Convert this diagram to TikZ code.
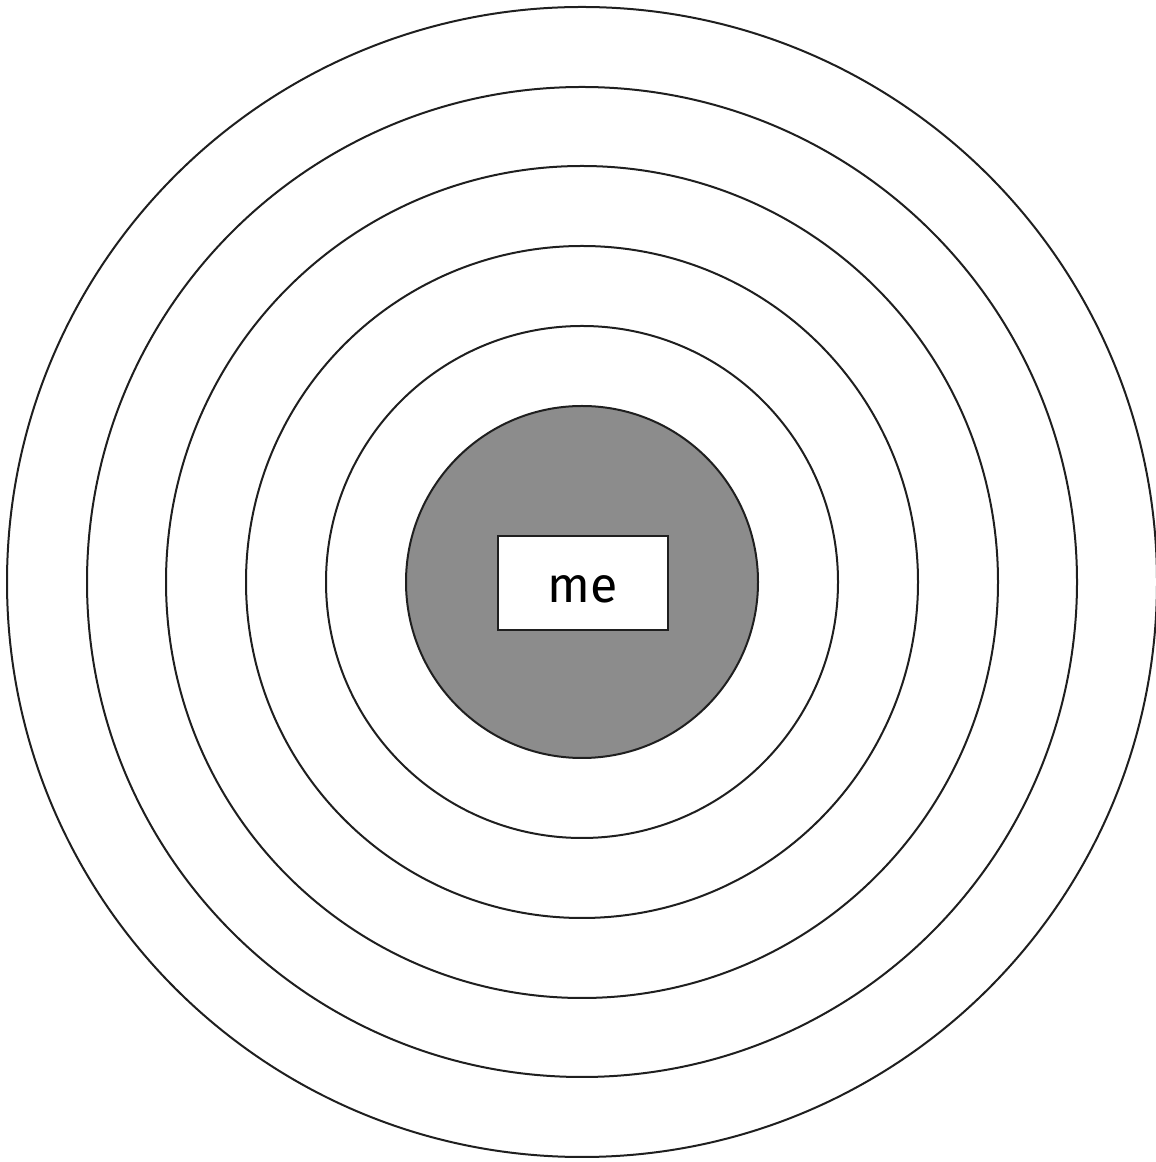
\documentclass[tikz,border=0pt]{standalone}
\usepackage{fontspec}
\setmainfont{Fira Sans}
\begin{document}
\begin{tikzpicture}[x=1pt,y=1pt,
  ring/.style={draw=black!88, line width=2pt},
  core/.style={circle, draw=black!88, line width=2pt, fill=black!45, minimum size=352pt, inner sep=0pt},
  label/.style={draw=black!88, line width=2.2pt, fill=white, minimum width=170pt, minimum height=94pt, inner sep=0pt, text height=40pt, text depth=0pt, font=\fontsize{50}{56}\selectfont}]
\useasboundingbox (0,0) rectangle (1156,1162);
\coordinate (c) at (582,580);
\draw[ring] (c) circle[radius=575];
\draw[ring] (c) circle[radius=495];
\draw[ring] (c) circle[radius=416];
\draw[ring] (c) circle[radius=336];
\draw[ring] (c) circle[radius=256];
\node[core] (gray) at (c) {};
\node[label] (me) at (583,579) {me};
\end{tikzpicture}
\end{document}
